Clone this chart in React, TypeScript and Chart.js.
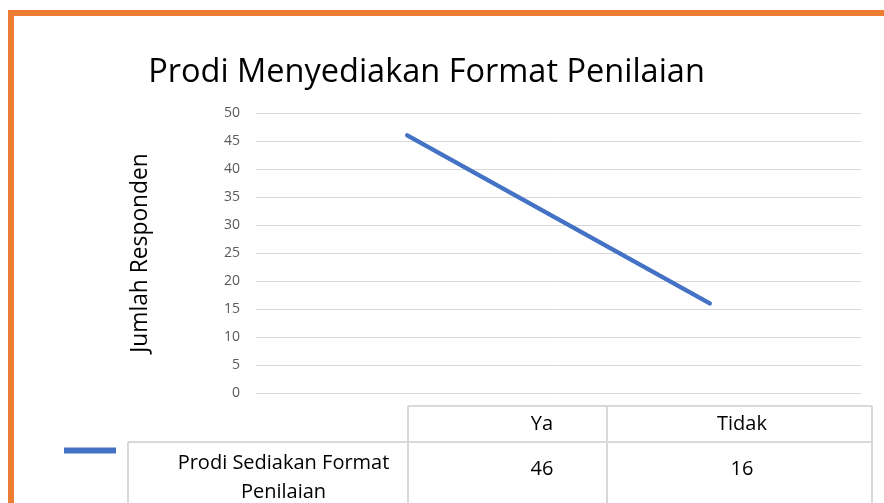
import React, { useEffect, useRef } from "react";
import { Chart, registerables } from "chart.js";

Chart.register(...registerables);

const chartTitle = "Prodi Menyediakan Format Penilaian";
const yAxisTitle = "Jumlah Responden";
const categories = ["Ya", "Tidak"];
const values = [46, 16];
const seriesLabelLines = ["Prodi Sediakan Format", "Penilaian"];
const yMin = 0;
const yMax = 50;
const yStep = 5;

const FONT = "'Open Sans', 'Noto Sans', sans-serif";
const LINE_COLOR = "#4472C4";
const GRID_COLOR = "#d9d9d9";
const TABLE_BORDER = "#d9d9d9";

const overlayPlugin = {
  id: "overlay",
  afterDraw(chart: any) {
    const ctx = chart.ctx;
    const area = chart.chartArea;
    ctx.save();

    // Title
    ctx.fillStyle = "#000000";
    ctx.font = `32.5px ${FONT}`;
    ctx.textAlign = "center";
    ctx.textBaseline = "alphabetic";
    ctx.fillText(chartTitle, 412.5, 66);

    // Y axis title
    ctx.save();
    ctx.translate(127, 237);
    ctx.rotate(-Math.PI / 2);
    ctx.font = `22.8px ${FONT}`;
    ctx.textAlign = "center";
    ctx.textBaseline = "middle";
    ctx.fillText(yAxisTitle, 0, 0);
    ctx.restore();

    // Data table
    const top = area.bottom + 13;
    const rowH = 36;
    const colLabelL = 114;
    const colYaL = 394;
    const colTidakL = 593;
    const right = 858;
    const bottom = chart.height + 5;
    ctx.strokeStyle = TABLE_BORDER;
    ctx.lineWidth = 2;
    ctx.beginPath();
    ctx.moveTo(colYaL, top);
    ctx.lineTo(right, top);
    ctx.moveTo(colLabelL, top + rowH);
    ctx.lineTo(right, top + rowH);
    ctx.moveTo(colLabelL, top + rowH);
    ctx.lineTo(colLabelL, bottom);
    ctx.moveTo(colYaL, top);
    ctx.lineTo(colYaL, bottom);
    ctx.moveTo(colTidakL, top);
    ctx.lineTo(colTidakL, bottom);
    ctx.moveTo(right, top);
    ctx.lineTo(right, bottom);
    ctx.stroke();

    ctx.fillStyle = "#000000";
    ctx.font = `20px ${FONT}`;
    ctx.textAlign = "center";
    ctx.textBaseline = "middle";
    const colCenters = [528, 728];
    categories.forEach((c, i) => ctx.fillText(c, colCenters[i], top + 18));
    values.forEach((v, i) => ctx.fillText(String(v), colCenters[i], top + 63));
    seriesLabelLines.forEach((t, i) => ctx.fillText(t, 269.5, top + 57 + i * 29));

    // Legend key
    ctx.strokeStyle = LINE_COLOR;
    ctx.lineWidth = 6;
    ctx.lineCap = "butt";
    ctx.beginPath();
    ctx.moveTo(50, top + 44.5);
    ctx.lineTo(102, top + 44.5);
    ctx.stroke();

    ctx.restore();
  },
};

export default function App() {
  const canvasRef = useRef<HTMLCanvasElement | null>(null);

  useEffect(() => {
    const canvas = canvasRef.current;
    if (!canvas) return;
    const chart = new Chart(canvas, {
      type: "line",
      data: {
        labels: categories,
        datasets: [
          {
            label: seriesLabelLines.join(" "),
            data: values,
            borderColor: LINE_COLOR,
            backgroundColor: LINE_COLOR,
            borderWidth: 4.5,
            borderCapStyle: "round",
            pointRadius: 0,
            tension: 0,
          },
        ],
      },
      options: {
        responsive: false,
        animation: false,
        devicePixelRatio: 1,
        layout: { padding: { top: 97, bottom: 110, left: 182, right: 23 } },
        plugins: {
          legend: { display: false },
          tooltip: { enabled: false },
          title: { display: false },
        },
        scales: {
          x: {
            display: false,
            offset: true,
          },
          y: {
            min: yMin,
            max: yMax,
            ticks: {
              stepSize: yStep,
              padding: 16,
              color: "#595959",
              font: { family: FONT, size: 14 },
            },
            grid: { color: GRID_COLOR, lineWidth: 1, drawTicks: false },
            border: { display: false },
            afterFit: (scale: any) => {
              scale.width = 60;
            },
          },
        },
      },
      plugins: [overlayPlugin],
    } as any);
    return () => chart.destroy();
  }, []);

  return (
    <div
      style={{
        position: "fixed",
        left: 8,
        top: 10,
        right: 0,
        bottom: 0,
        borderLeft: "6px solid #ED7D31",
        borderTop: "6px solid #ED7D31",
        background: "#ffffff",
        overflow: "hidden",
      }}
    >
      <canvas ref={canvasRef} width={870} height={487} style={{ display: "block" }} />
    </div>
  );
}
